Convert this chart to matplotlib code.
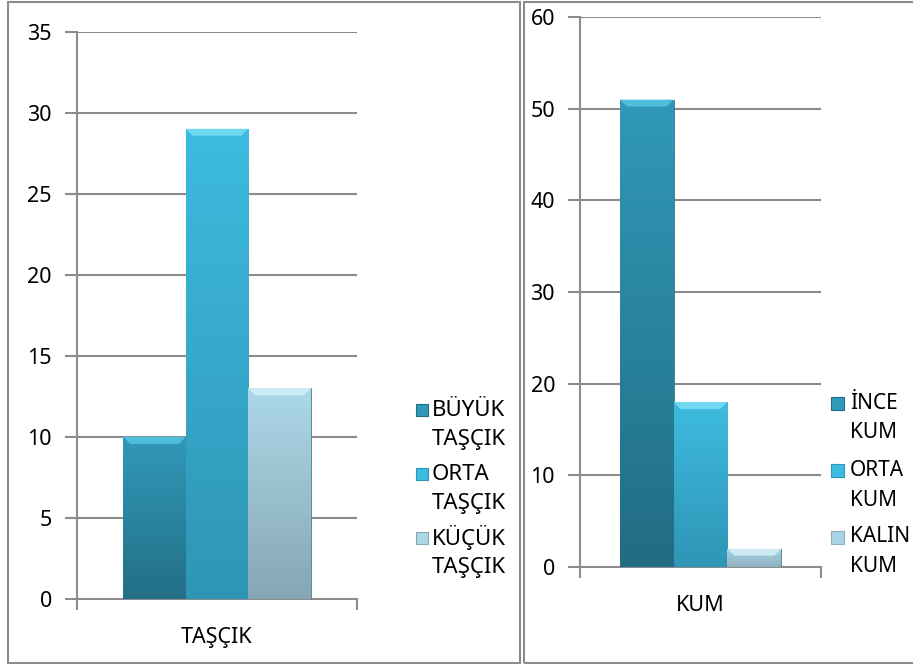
import matplotlib
matplotlib.use("Agg")
import matplotlib.pyplot as plt
import numpy as np
from matplotlib.colors import LinearSegmentedColormap
from matplotlib.patches import Rectangle, Polygon

plt.rcParams["font.family"] = ["Noto Sans", "DejaVu Sans"]

# data
tas_category = "TAŞÇIK"
tas_labels = ["BÜYÜK\nTAŞÇIK", "ORTA\nTAŞÇIK", "KÜÇÜK\nTAŞÇIK"]
tas_values = [10, 29, 13]
tas_ticks = [0, 5, 10, 15, 20, 25, 30, 35]

kum_category = "KUM"
kum_labels = ["İNCE\nKUM", "ORTA\nKUM", "KALIN\nKUM"]
kum_values = [51, 18, 2]
kum_ticks = [0, 10, 20, 30, 40, 50, 60]

# (top colour, bottom colour, bevel colour) for each series
tas_colors = [("#3099b8", "#236f86", "#55c8e8"),
              ("#3dbbe0", "#2f95b5", "#7fe0f6"),
              ("#acd8e8", "#86a6b4", "#d8f2fa")]
kum_colors = [("#3099b8", "#226c83", "#55c8e8"),
              ("#3dbbe0", "#2f95b5", "#7fe0f6"),
              ("#a8d6e6", "#8fb1bf", "#d8f2fa")]

GRID = "#8c8c8c"
W, H = 913, 665


def legend_block(fig, labels, colors, x_mark, x_text, y_first, step, line_gap,
                 size=12, fontsize=16):
    # hand-built legend: square sits beside the first line of each label
    for i, (lab, (ctop, cbot, _)) in enumerate(zip(labels, colors)):
        y = y_first + i * step
        fig.patches.append(Rectangle((x_mark / W, 1 - (y + size / 2) / H), size / W, size / H,
                                     transform=fig.transFigure, facecolor=ctop,
                                     edgecolor=cbot, linewidth=0.8))
        for j, line in enumerate(lab.split("\n")):
            fig.text(x_text / W, 1 - (y + j * line_gap) / H, line, fontsize=fontsize,
                     ha="left", va="center")


def draw_panel(ax, category, labels, values, ticks, colors, box_px):
    n = len(values)
    group = 0.67
    w = group / n
    xs = [-group / 2 + w * (i + 0.5) for i in range(n)]
    ax_w_px, ax_h_px = box_px
    bev_y = 7 * (ticks[-1] - ticks[0]) / ax_h_px
    bev_x = 7 / ax_w_px
    for x, v, lab, (ctop, cbot, cbev) in zip(xs, values, labels, colors):
        bar = ax.bar(x, v, width=w, color=ctop, edgecolor="#24697e",
                     linewidth=0.5, zorder=3, label=lab)[0]
        cmap = LinearSegmentedColormap.from_list("g", [cbot, ctop])
        grad = np.linspace(0, 1, 256).reshape(-1, 1)
        im = ax.imshow(grad, cmap=cmap, origin="lower", aspect="auto",
                       extent=(x - w / 2, x + w / 2, 0, v), zorder=3.5)
        im.set_clip_path(bar)
        # bevel on the top face
        x0, x1 = x - w / 2, x + w / 2
        hb = min(bev_y, v * 0.5)
        ax.add_patch(Polygon([(x0, v), (x1, v), (x1 - bev_x, v - hb), (x0 + bev_x, v - hb)],
                             closed=True, facecolor=cbev, alpha=0.8, linewidth=0, zorder=4))
    ax.set_xlim(-0.5, 0.5)
    ax.set_ylim(ticks[0], ticks[-1])
    ax.set_yticks(ticks)
    ax.yaxis.grid(True, color=GRID, linewidth=1.5)
    ax.set_axisbelow(True)
    ax.set_xticks([0])
    ax.set_xticklabels([category], fontsize=15.5)
    ax.tick_params(axis="x", length=0, pad=20)
    ax.set_xticks([-0.5, 0.5], minor=True)
    ax.tick_params(axis="x", which="minor", length=8, width=1.5, color=GRID, direction="out")
    ax.tick_params(axis="y", length=9, width=1.5, color=GRID, labelsize=15.5, pad=9)
    for s in ("top", "right"):
        ax.spines[s].set_visible(False)
    for s in ("left", "bottom"):
        ax.spines[s].set_color(GRID)
        ax.spines[s].set_linewidth(1.5)


fig = plt.figure(figsize=(W / 100, H / 100), dpi=100)

ax1 = fig.add_axes([77 / W, 1 - 599 / H, 280 / W, 567.5 / H])
draw_panel(ax1, tas_category, tas_labels, tas_values, tas_ticks, tas_colors, (280, 567.5))
legend_block(fig, tas_labels, tas_colors, 416, 432, 410, 64, 30)

ax2 = fig.add_axes([580 / W, 1 - 567 / H, 241 / W, 550 / H])
draw_panel(ax2, kum_category, kum_labels, kum_values, kum_ticks, kum_colors, (241, 550))
legend_block(fig, kum_labels, kum_colors, 831, 850, 403, 67, 30, size=13, fontsize=15)

# panel borders
fig.patches.append(Rectangle((8 / W, 2 / H), 512 / W, 661 / H, transform=fig.transFigure,
                             fill=False, edgecolor="#8c8c8c", linewidth=1.5))
fig.patches.append(Rectangle((524 / W, 2 / H), 400 / W, 661 / H, transform=fig.transFigure,
                             fill=False, edgecolor="#8c8c8c", linewidth=1.5))

fig.savefig("out.png", dpi=100)
